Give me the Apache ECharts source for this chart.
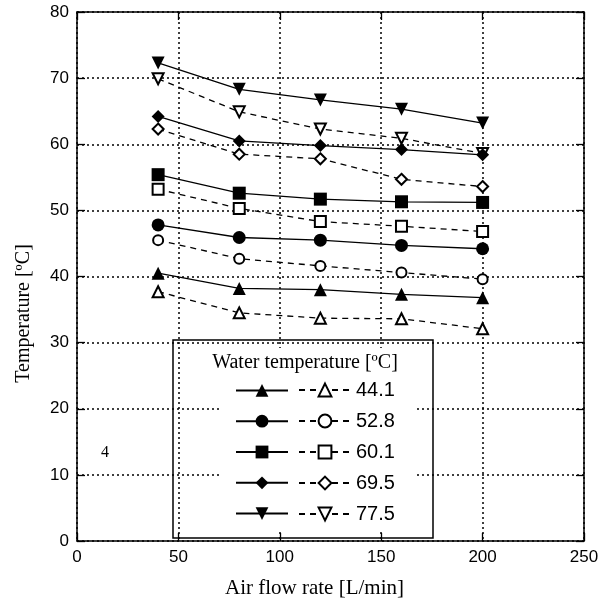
<!DOCTYPE html>
<html>
<head>
<meta charset="utf-8">
<script src="https://cdn.jsdelivr.net/npm/echarts@6/dist/echarts.min.js"></script>
<style>
  html, body { margin: 0; padding: 0; background: #fff; }
  #chart { width: 608px; height: 604px; }
</style>
</head>
<body>
<div id="chart"></div>
<script>
// air flow rate [L/min]
const airFlow = [40, 80, 120, 160, 200];
const waterTemps = ['44.1', '52.8', '60.1', '69.5', '77.5'];

// solid lines, filled markers
const solid441 = [40.5, 38.2, 38.0, 37.3, 36.8];
const solid528 = [47.8, 45.9, 45.5, 44.7, 44.2];
const solid601 = [55.4, 52.6, 51.7, 51.3, 51.2];
const solid695 = [64.2, 60.5, 59.8, 59.2, 58.4];
const solid775 = [72.3, 68.3, 66.7, 65.3, 63.2];

// dashed lines, open markers
const dashed441 = [37.7, 34.5, 33.7, 33.6, 32.1];
const dashed528 = [45.5, 42.7, 41.6, 40.6, 39.6];
const dashed601 = [53.2, 50.3, 48.3, 47.6, 46.8];
const dashed695 = [62.3, 58.5, 57.8, 54.7, 53.6];
const dashed775 = [69.9, 64.9, 62.3, 60.9, 58.6];

const xTicks = [0, 50, 100, 150, 200, 250];
const yTicks = [0, 10, 20, 30, 40, 50, 60, 70, 80];

const solidSets = [solid441, solid528, solid601, solid695, solid775];
const dashedSets = [dashed441, dashed528, dashed601, dashed695, dashed775];
const filledSymbols = ['triangle', 'circle', 'rect', 'diamond', 'triangle'];
const openSymbols = ['emptyTriangle', 'emptyCircle', 'emptyRect', 'emptyDiamond', 'emptyTriangle'];
const rotations = [0, 0, 0, 0, 180];
const filledSizes = [13, 13, 13, 13, 13];
const openSizes = [11, 10, 11, 11, 11];

const sansFont = 'Liberation Sans';
const serifFont = 'Liberation Serif';

const series = [];
waterTemps.forEach((t, i) => {
  series.push({
    name: 'solid ' + t,
    type: 'line',
    data: airFlow.map((x, k) => [x, solidSets[i][k]]),
    symbol: filledSymbols[i],
    symbolRotate: rotations[i],
    symbolSize: filledSizes[i],
    color: '#000',
    itemStyle: { color: '#000' },
    lineStyle: { color: '#000', width: 1.3, type: 'solid' },
    z: 3
  });
  series.push({
    name: 'dashed ' + t,
    type: 'line',
    data: airFlow.map((x, k) => [x, dashedSets[i][k]]),
    symbol: openSymbols[i],
    symbolRotate: rotations[i],
    symbolSize: openSizes[i],
    color: '#000',
    itemStyle: { color: '#000', borderWidth: 1.3 },
    lineStyle: { color: '#000', width: 1.3, type: [6, 5] },
    z: 2
  });
});

const chart = echarts.init(document.getElementById('chart'));

const axisCommon = {
  axisLine: { show: true, onZero: false, lineStyle: { color: '#000', width: 1.5 } },
  axisTick: { show: true, inside: true, length: 8, lineStyle: { color: '#000', width: 1.3 } }
};

chart.setOption({
  animation: false,
  backgroundColor: '#fff',
  grid: { left: 77, right: 24, top: 12, bottom: 60, containLabel: false },
  xAxis: [
    Object.assign({
      type: 'value', min: 0, max: 250, interval: 50, position: 'bottom',
      name: 'Air flow rate [L/min]', nameLocation: 'middle', nameGap: 37,
      nameTextStyle: { fontFamily: serifFont, fontSize: 21, color: '#000', padding: [0, 32, 0, 0] },
      axisLabel: {
        fontFamily: sansFont, fontSize: 17, color: '#000', margin: 8,
        formatter: v => xTicks.includes(v) ? String(v) : ''
      },
      splitLine: { show: true, lineStyle: { color: '#000', width: 1.5, type: [2, 3] } }
    }, axisCommon),
    Object.assign({
      type: 'value', min: 0, max: 250, interval: 50, position: 'top',
      axisLabel: { show: false }, splitLine: { show: false }
    }, axisCommon)
  ],
  yAxis: [
    Object.assign({
      type: 'value', min: 0, max: 80, interval: 10, position: 'left',
      name: 'Temperature [ºC]', nameLocation: 'middle', nameGap: 43,
      nameTextStyle: { fontFamily: serifFont, fontSize: 20, color: '#000', padding: [0, 74, 0, 0] },
      axisLabel: {
        fontFamily: sansFont, fontSize: 17, color: '#000', margin: 8,
        formatter: v => yTicks.includes(v) ? String(v) : ''
      },
      splitLine: { show: true, lineStyle: { color: '#000', width: 1.5, type: [2, 3] } }
    }, axisCommon),
    Object.assign({
      type: 'value', min: 0, max: 80, interval: 10, position: 'right',
      axisLabel: { show: false }, splitLine: { show: false }
    }, axisCommon)
  ],
  legend: [
    {
      data: waterTemps.map(t => 'solid ' + t),
      orient: 'vertical', left: 235, top: 384, padding: 0,
      itemWidth: 52, itemHeight: 16, itemGap: 18,
      selectedMode: false,
      formatter: () => '',
      textStyle: { fontSize: 16, lineHeight: 16 }
    },
    {
      data: waterTemps.map(t => 'dashed ' + t),
      orient: 'vertical', left: 298, top: 380, padding: 0,
      itemWidth: 52, itemHeight: 16, itemGap: 11,
      selectedMode: false,
      formatter: n => n.split(' ')[1],
      textStyle: { fontFamily: sansFont, fontSize: 20, lineHeight: 16, color: '#000' }
    }
  ],
  graphic: [
    {
      type: 'rect', z: 3,
      shape: { x: 220, y: 348, width: 195, height: 184 },
      style: { fill: '#fff' }
    },
    {
      type: 'rect', z: 10,
      shape: { x: 173, y: 340, width: 260, height: 198 },
      style: { fill: 'none', stroke: '#000', lineWidth: 1.5 }
    },
    {
      type: 'text', z: 10,
      style: {
        x: 305, y: 363, text: 'Water temperature [ºC]',
        align: 'center', verticalAlign: 'middle',
        font: '20px "Liberation Serif"', fill: '#000'
      }
    },
    {
      type: 'text', z: 10,
      style: {
        x: 105, y: 453, text: '4',
        align: 'center', verticalAlign: 'middle',
        font: '16px "Liberation Serif"', fill: '#000'
      }
    }
  ],
  series: series
});
</script>
</body>
</html>
